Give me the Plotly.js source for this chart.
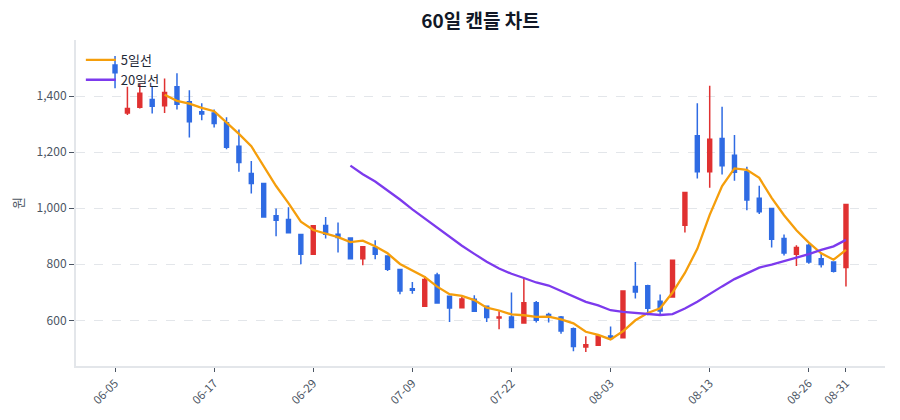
<!DOCTYPE html>
<html>
<head>
<meta charset="utf-8">
<script src="https://cdn.plot.ly/plotly-3.0.1.min.js"></script>
<style>
  html, body { margin: 0; padding: 0; background: #ffffff; }
  #chart { width: 900px; height: 420px; }
</style>
</head>
<body>
<div id="chart"></div>
<script>
// 60 trading days, 2020-06-05 .. 2020-08-31 (category axis, no gaps)
const DATES = [
  "06-05", "06-08", "06-09", "06-10", "06-11", "06-12", "06-15", "06-16", "06-17", "06-18",
  "06-19", "06-22", "06-23", "06-24", "06-25", "06-26", "06-29", "06-30", "07-01", "07-02",
  "07-03", "07-06", "07-07", "07-08", "07-09", "07-10", "07-13", "07-14", "07-15", "07-16",
  "07-20", "07-21", "07-22", "07-23", "07-24", "07-27", "07-28", "07-29", "07-30", "07-31",
  "08-03", "08-04", "08-05", "08-06", "08-07", "08-10", "08-11", "08-12", "08-13", "08-14",
  "08-18", "08-19", "08-20", "08-21", "08-24", "08-25", "08-26", "08-27", "08-28", "08-31",
];

const OPEN = [
  1511, 1340, 1360, 1388, 1365, 1433, 1380, 1344, 1340, 1305,
  1221, 1124, 1088, 973, 960, 906, 836, 938, 907, 894,
  820, 860, 829, 781, 713, 650, 762, 686, 645, 675,
  650, 608, 612, 590, 663, 621, 612, 570, 505, 511,
  544, 538, 721, 723, 668, 683, 939, 1258, 1130, 1249,
  1189, 1130, 1035, 999, 892, 836, 868, 820, 808, 788,
];
const HIGH = [
  1543, 1433, 1443, 1436, 1463, 1481, 1421, 1374, 1352, 1324,
  1281, 1168, 1090, 999, 1003, 906, 937, 969, 949, 896,
  862, 886, 829, 781, 737, 758, 770, 686, 683, 689,
  652, 632, 699, 749, 669, 627, 615, 574, 543, 546,
  578, 705, 808, 727, 692, 814, 1056, 1374, 1437, 1362,
  1261, 1148, 1080, 999, 906, 868, 874, 838, 811, 1013,
];
const LOW = [
  1428, 1332, 1356, 1338, 1340, 1352, 1252, 1314, 1288, 1210,
  1130, 1052, 967, 900, 910, 800, 836, 892, 842, 820,
  796, 818, 776, 693, 695, 650, 660, 594, 645, 631,
  594, 568, 573, 588, 592, 592, 552, 490, 487, 511,
  535, 538, 678, 618, 620, 683, 913, 1106, 1073, 1120,
  1098, 993, 979, 860, 831, 794, 802, 788, 771, 721,
];
const CLOSE = [
  1483, 1356, 1410, 1364, 1413, 1371, 1308, 1336, 1302, 1217,
  1163, 1088, 969, 957, 912, 836, 937, 907, 895, 820,
  862, 836, 782, 705, 707, 746, 662, 644, 676, 632,
  610, 612, 574, 663, 600, 614, 562, 507, 513, 544,
  535, 705, 701, 643, 633, 814, 1056, 1130, 1246, 1151,
  1128, 1029, 987, 889, 840, 860, 808, 799, 775, 1013,
];

// moving averages (null before each window fills)
const MA5 = [
  null, null, null, null, 1405, 1383, 1373, 1358, 1346, 1307,
  1265, 1221, 1148, 1079, 1018, 952, 922, 910, 897, 879,
  884, 864, 839, 801, 778, 755, 720, 693, 687, 672,
  645, 635, 621, 618, 612, 613, 603, 589, 559, 548,
  532, 561, 600, 626, 643, 699, 769, 855, 976, 1079,
  1142, 1137, 1108, 1037, 975, 921, 877, 839, 816, 851,
];
const MA20 = [
  null, null, null, null, null, null, null, null, null, null,
  null, null, null, null, null, null, null, null, null, 1152,
  1121, 1095, 1064, 1031, 996, 964, 932, 897, 866, 837,
  809, 785, 766, 751, 735, 724, 705, 685, 666, 653,
  636, 630, 626, 623, 619, 622, 642, 666, 695, 721,
  747, 767, 788, 799, 811, 824, 836, 851, 864, 887,
];

const TICK_DAYS = ["06-05", "06-17", "06-29", "07-09", "07-22", "08-03", "08-13", "08-26", "08-31"];
const PRICE_TICKS = [600, 800, 1000, 1200, 1400];

const UP = "#e03131";
const DOWN = "#2f6be3";
const INK = "#1f2937";
const MUTED = "#4b5563";
const RULE = "#e3e6ea";
const FONT = '"Noto Sans CJK KR", "Noto Sans", sans-serif';

const traces = [
  {
    type: "candlestick",
    x: DATES, open: OPEN, high: HIGH, low: LOW, close: CLOSE,
    increasing: { line: { color: UP, width: 1.5 }, fillcolor: UP },
    decreasing: { line: { color: DOWN, width: 1.5 }, fillcolor: DOWN },
    showlegend: false,
    name: "가격",
  },
  {
    type: "scatter", mode: "lines",
    x: DATES, y: MA5, name: "5일선",
    line: { color: "#f59e0b", width: 2.3 },
  },
  {
    type: "scatter", mode: "lines",
    x: DATES, y: MA20, name: "20일선",
    line: { color: "#7c3aed", width: 2.3 },
  },
];

const layout = {
  width: 900, height: 420,
  paper_bgcolor: "#ffffff", plot_bgcolor: "#ffffff",
  font: { family: FONT, color: MUTED, size: 12 },
  margin: { l: 76, r: 15, t: 40, b: 54 },
  title: {
    text: "60일 캔들 차트",
    x: 0.5, xref: "paper", y: 0.948, yref: "container", yanchor: "middle",
    font: { family: FONT, size: 19, color: "#111827", weight: 700 },
  },
  boxgap: 0.55,
  showlegend: true,
  legend: {
    x: 0.006, y: 0.985, xanchor: "left", yanchor: "top",
    bgcolor: "rgba(0,0,0,0)",
    font: { family: FONT, size: 13, color: INK },
  },
  xaxis: {
    type: "category",
    range: [-3.15, 62.15],
    rangeslider: { visible: false },
    tickvals: TICK_DAYS, ticktext: TICK_DAYS,
    tickangle: -45,
    ticks: "outside", ticklen: 4, tickcolor: MUTED, tickwidth: 1,
    tickfont: { family: FONT, size: 11.5, color: MUTED },
    showline: true, linecolor: RULE, linewidth: 2,
    showgrid: false, zeroline: false,
  },
  yaxis: {
    range: [437, 1600],
    tickvals: PRICE_TICKS, tickformat: ",d",
    ticks: "outside", ticklen: 5, tickcolor: MUTED, tickwidth: 1,
    tickfont: { family: FONT, size: 12, color: MUTED },
    showline: true, linecolor: RULE, linewidth: 2,
    gridcolor: RULE, griddash: "dash", gridwidth: 1,
    zeroline: false,
    title: { text: "원", font: { family: FONT, size: 13, color: MUTED }, standoff: 10 },
  },
};

Plotly.newPlot("chart", traces, layout, { displayModeBar: false, staticPlot: true });
</script>
</body>
</html>
